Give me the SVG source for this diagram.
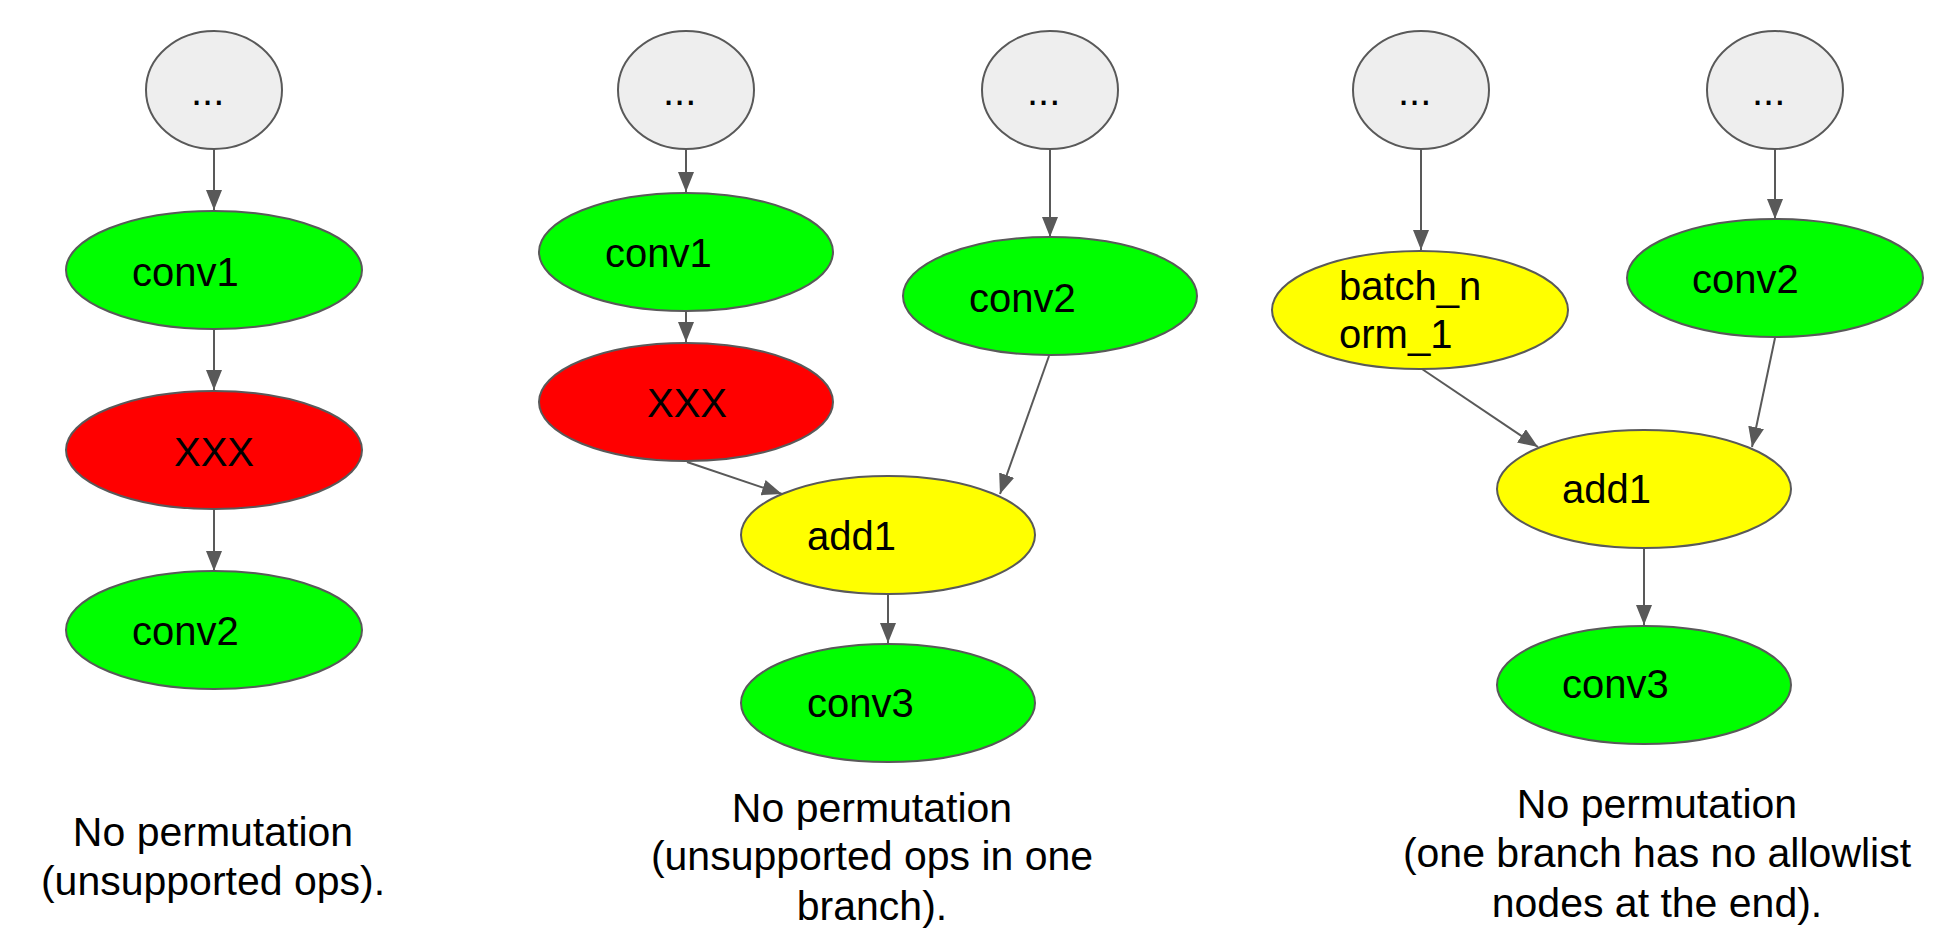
<svg xmlns="http://www.w3.org/2000/svg" width="1947" height="947" viewBox="0 0 1947 947">
<style>
.n{stroke:#595959;stroke-width:2}
.dots{fill:#eeeeee}
.g{fill:#00ff00}
.r{fill:#ff0000}
.y{fill:#ffff00}
text{font-family:"Liberation Sans",Arial,sans-serif;font-size:40px;fill:#000}
.cap{font-size:41px;text-anchor:middle}
.mid{text-anchor:middle}
.e{stroke:#595959;stroke-width:2;fill:none;marker-end:url(#ah)}
</style>
<defs>
<marker id="ah" markerUnits="userSpaceOnUse" markerWidth="20" markerHeight="16" refX="20" refY="8" orient="auto" viewBox="0 0 20 16">
<path d="M0,0 L20,8 L0,16 z" fill="#595959"/>
</marker>
</defs>
<rect width="1947" height="947" fill="#ffffff"/>
<g id="connectors">
<line class="e" x1="214" y1="149" x2="214" y2="210"/>
<line class="e" x1="214" y1="329" x2="214" y2="390"/>
<line class="e" x1="214" y1="509" x2="214" y2="571"/>
<line class="e" x1="686" y1="149" x2="686" y2="192"/>
<line class="e" x1="686" y1="311" x2="686" y2="342"/>
<line class="e" x1="1050" y1="149" x2="1050" y2="237"/>
<line class="e" x1="687" y1="462" x2="782" y2="494"/>
<line class="e" x1="1049" y1="356" x2="1000" y2="494"/>
<line class="e" x1="888" y1="594" x2="888" y2="643"/>
<line class="e" x1="1421" y1="149" x2="1421" y2="250"/>
<line class="e" x1="1775" y1="149" x2="1775" y2="219"/>
<line class="e" x1="1422" y1="369" x2="1538" y2="447"/>
<line class="e" x1="1775" y1="338" x2="1752" y2="447"/>
<line class="e" x1="1644" y1="548" x2="1644" y2="625"/>
</g>
<g id="p1-in"><ellipse class="n dots" cx="214" cy="90" rx="68" ry="59"/><text x="191" y="105">...</text></g>
<g id="p1-conv1"><ellipse class="n g" cx="214" cy="270" rx="148" ry="59"/><text x="132" y="286">conv1</text></g>
<g id="p1-xxx"><ellipse class="n r" cx="214" cy="450" rx="148" ry="59"/><text class="mid" x="214" y="466">XXX</text></g>
<g id="p1-conv2"><ellipse class="n g" cx="214" cy="630" rx="148" ry="59"/><text x="132" y="645">conv2</text></g>
<g id="p1-caption"><text class="cap" x="213" y="846">No permutation</text><text class="cap" x="213" y="895">(unsupported ops).</text></g>

<g id="p2-in1"><ellipse class="n dots" cx="686" cy="90" rx="68" ry="59"/><text x="663" y="105">...</text></g>
<g id="p2-in2"><ellipse class="n dots" cx="1050" cy="90" rx="68" ry="59"/><text x="1027" y="105">...</text></g>
<g id="p2-conv1"><ellipse class="n g" cx="686" cy="252" rx="147" ry="59"/><text x="605" y="267">conv1</text></g>
<g id="p2-xxx"><ellipse class="n r" cx="686" cy="402" rx="147" ry="59"/><text class="mid" x="687" y="417">XXX</text></g>
<g id="p2-conv2"><ellipse class="n g" cx="1050" cy="296" rx="147" ry="59"/><text x="969" y="312">conv2</text></g>
<g id="p2-add1"><ellipse class="n y" cx="888" cy="535" rx="147" ry="59"/><text x="807" y="550">add1</text></g>
<g id="p2-conv3"><ellipse class="n g" cx="888" cy="703" rx="147" ry="59"/><text x="807" y="717">conv3</text></g>
<g id="p2-caption"><text class="cap" x="872" y="822">No permutation</text><text class="cap" x="872" y="870">(unsupported ops in one</text><text class="cap" x="872" y="920">branch).</text></g>

<g id="p3-in1"><ellipse class="n dots" cx="1421" cy="90" rx="68" ry="59"/><text x="1398" y="105">...</text></g>
<g id="p3-in2"><ellipse class="n dots" cx="1775" cy="90" rx="68" ry="59"/><text x="1752" y="105">...</text></g>
<g id="p3-bn"><ellipse class="n y" cx="1420" cy="310" rx="148" ry="59"/><text x="1339" y="300">batch_n</text><text x="1339" y="348">orm_1</text></g>
<g id="p3-conv2"><ellipse class="n g" cx="1775" cy="278" rx="148" ry="59"/><text x="1692" y="293">conv2</text></g>
<g id="p3-add1"><ellipse class="n y" cx="1644" cy="489" rx="147" ry="59"/><text x="1562" y="503">add1</text></g>
<g id="p3-conv3"><ellipse class="n g" cx="1644" cy="685" rx="147" ry="59"/><text x="1562" y="698">conv3</text></g>
<g id="p3-caption"><text class="cap" x="1657" y="818">No permutation</text><text class="cap" x="1657" y="867">(one branch has no allowlist</text><text class="cap" x="1657" y="917">nodes at the end).</text></g>
</svg>
